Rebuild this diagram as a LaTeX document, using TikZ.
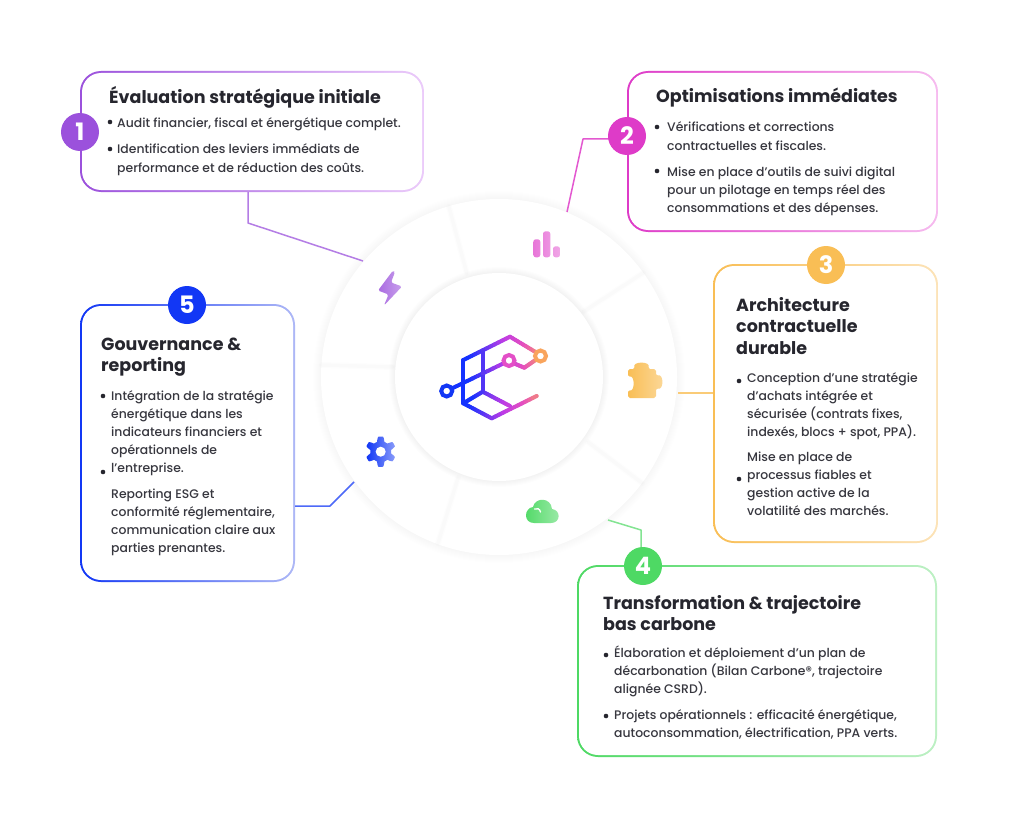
\documentclass[tikz,border=0pt]{standalone}
\usepackage{fontspec}
\setmainfont{Poppins}[UprightFont=* Medium]
\newfontfamily\ttlfont{Poppins}[UprightFont=* Bold]
\usetikzlibrary{calc}
\definecolor{ink}{HTML}{26262E}
\definecolor{pA}{HTML}{9B51DC}\definecolor{pB}{HTML}{EBCBFA}
\definecolor{mA}{HTML}{DE3BC8}\definecolor{mB}{HTML}{F6BBEF}
\definecolor{oA}{HTML}{F9BE55}\definecolor{oB}{HTML}{FCE3B8}
\definecolor{gA}{HTML}{4ED964}\definecolor{gB}{HTML}{BDF0C4}
\definecolor{bA}{HTML}{1237F5}\definecolor{bB}{HTML}{AEB8F6}
\tikzset{
 ttl/.style={anchor=base west,inner sep=0,text=ink,font=\ttlfont\fontsize{17.5}{21.7}\selectfont},
 bodytxt/.style={anchor=base west,inner sep=0,text=ink!92,font=\fontsize{12.4}{18}\selectfont},
 bul/.style={circle,fill=ink,inner sep=0,minimum size=4.6pt},
 badge/.style={circle,inner sep=0,minimum size=38pt,text=white,font=\ttlfont\fontsize{24}{24}\selectfont},
 conn/.style={line width=1.5pt,line join=round},
 logoring/.style={circle,line width=4pt,fill=white,inner sep=0,minimum size=11pt},
}
\newcommand\gbox[7]{%
 \node[minimum width={(#4)-(#2)},minimum height={(#5)-(#3)},inner sep=0,rounded corners=21pt,left color=#6,right color=#7,draw=none] (#1) at ({((#2)+(#4))/2},{((#3)+(#5))/2}) {};
 \node[minimum width={(#4)-(#2)-4},minimum height={(#5)-(#3)-4},inner sep=0,rounded corners=19pt,fill=white] (#1i) at ({((#2)+(#4))/2},{((#3)+(#5))/2}) {};
}
\newcommand\ptxt[4]{\node[bodytxt] (#1) at (#2,#3) {\begin{tabular}[t]{@{}l@{}}#4\end{tabular}};}
\newcommand\ttxt[4]{\node[ttl] (#1) at (#2,#3) {\begin{tabular}[t]{@{}l@{}}#4\end{tabular}};}
\newcommand\gseg[4]{%
 \foreach \i in {1,...,12}{%
  \pgfmathsetmacro\xa{#1+((#3)-(#1))*(\i-1)/12}\pgfmathsetmacro\ya{#2+((#4)-(#2))*(\i-1)/12}%
  \pgfmathsetmacro\xb{#1+((#3)-(#1))*\i/12}\pgfmathsetmacro\yb{#2+((#4)-(#2))*\i/12}%
  \pgfmathsetmacro\tq{max(445,min(545,(\xa+\xb)/2))}%
  \pgfmathtruncatemacro\rr{\tq<470?20:(\tq<505?(20+(\tq-470)/35*170):(\tq<525?(190+(\tq-505)/20*40):(230+(\tq-525)/20*20)))}%
  \pgfmathtruncatemacro\gg{\tq<470?50:(\tq<505?(50+(\tq-470)/35*10):(\tq<525?(60+(\tq-505)/20*20):(80+(\tq-525)/20*85)))}%
  \pgfmathtruncatemacro\bb{\tq<470?255:(\tq<505?(255-(\tq-470)/35*25):(\tq<525?(230-(\tq-505)/20*40):(190-(\tq-525)/20*100)))}%
  \definecolor{gc}{RGB}{\rr,\gg,\bb}%
  \draw[gc,line width=4pt,line cap=round] (\xa,\ya)--(\xb,\yb);%
 }%
}
\begin{document}
\begin{tikzpicture}[x=1pt,y=-1pt]
\useasboundingbox[fill=white] (0,0) rectangle (1024,829);
% ring
\foreach \w in {2,4,...,16}{\draw[black,opacity=.005,line width=\w pt] (499,377) circle (178);}
\fill[white] (499,377) circle (178);
\foreach \a/\b/\c/\d in {466.7/273/449/207, 583/312/643/273, 588/442/642/483, 458/478/438/543, 393/367/322/365}{
 \draw[black,opacity=.006,line width=6pt,line cap=round] (\a,\b)--(\c,\d);
 \draw[black,opacity=.010,line width=3.5pt,line cap=round] (\a,\b)--(\c,\d);
}
\foreach \w in {2,4,...,12}{\draw[black,opacity=.006,line width=\w pt] (499,377) circle (104);}
\fill[white] (499,377) circle (104);
% connectors
\coordinate (e1) at (363,261);\coordinate (j1) at (248,223);
\coordinate (e2) at (567,212);\coordinate (j2) at (583,139);
\coordinate (e3) at (678,393);
\coordinate (e4) at (608,520);\coordinate (j4) at (641,530);
\coordinate (e5) at (354,482);\coordinate (j5) at (330,506);
% boxes
\gbox{b1}{80}{71}{424}{192}{pA}{pB}
\gbox{b2}{627}{71}{938}{232}{mA}{mB}
\gbox{b3}{713}{264}{938}{543}{oA}{oB}
\gbox{b4}{577}{565}{937}{757}{gA}{gB}
\gbox{b5}{80}{304}{295}{582}{bA}{bB}
\draw[conn,color=pA!75!white] (b1.south -| j1) -- (j1) -- (e1);
\draw[conn,color=mA!85!white] (e2) -- (j2) -- (j2 -| b2.west);
\draw[conn,color=oA!80!white] (e3) -- (e3 -| b3.west);
\draw[conn,color=gA!70!white] (e4) -- (j4) -- (j4 |- b4.north);
\draw[conn,color=bA!75!white] (e5) -- (j5) -- (j5 -| b5.east);
% badges
\node[badge,fill=pA] (n1) at (80,132) {1};
\node[badge,fill=mA] (n2) at (627,136) {2};
\node[badge,fill=oA] (n3) at (826,265) {3};
\node[badge,fill=gA] (n4) at (643,566) {4};
\node[badge,fill=bA] (n5) at (187,305) {5};
% texts
\ttxt{t1}{109}{104}{Évaluation stratégique initiale}
\node[bul] (d11) at (110,122) {};\ptxt{p11}{117}{128}{Audit financier, fiscal et énergétique complet.}
\node[bul] (d12) at (110,149) {};\ptxt{p12}{117}{154}{Identification des leviers immédiats de\\performance et de réduction des coûts.}
\ttxt{t2}{656}{103}{Optimisations immédiates}
\node[bul] (d21) at (657,127) {};\ptxt{p21}{667}{132}{Vérifications et corrections\\contractuelles et fiscales.}
\node[bul] (d22) at (657,171) {};\ptxt{p22}{667}{176}{Mise en place d’outils de suivi digital\\pour un pilotage en temps réel des\\consommations et des dépenses.}
\ttxt{t3}{736}{311}{Architecture\\contractuelle\\durable}
\node[bul] (d31) at (739,381) {};\ptxt{p31}{747}{382}{Conception d’une stratégie\\d’achats intégrée et\\sécurisée (contrats fixes,\\indexés, blocs + spot, PPA).}
\node[bul] (d32) at (739,479) {};\ptxt{p32}{747}{461}{Mise en place de\\processus fiables et\\gestion active de la\\volatilité des marchés.}
\ttxt{t4}{603}{609}{Transformation \& trajectoire\\bas carbone}
\node[bul] (d41) at (606,655) {};\ptxt{p41}{614}{657}{Élaboration et déploiement d’un plan de\\décarbonation (Bilan Carbone®, trajectoire\\alignée CSRD).}
\node[bul] (d42) at (606,716) {};\ptxt{p42}{614}{719}{Projets opérationnels : efficacité énergétique,\\autoconsommation, électrification, PPA verts.}
\ttxt{t5}{101}{350}{Gouvernance \&\\reporting}
\node[bul] (d51) at (103,396) {};\ptxt{p51}{111}{400}{Intégration de la stratégie\\énergétique dans les\\indicateurs financiers et\\opérationnels de\\l’entreprise.}
\node[bul] (d52) at (103,472) {};\ptxt{p52}{111}{498}{Reporting ESG et\\conformité réglementaire,\\communication claire aux\\parties prenantes.}
% icons
% bars
\shade[left color=mA!70!white,right color=mA!45!white,rounded corners=2.5pt]
  (533.3,239.3) rectangle (540.3,257.3) (543,231.3) rectangle (550.3,257.3) (553,246.3) rectangle (560,257.3);
% bolt
\shade[left color=pA!85!white,right color=pA!55!white,rounded corners=1.6pt]
  (393,270.5)--(378,290.5)--(388.5,294.5)--(384,305.5)--(402,286.5)--(391,282.5)--(395,272)--cycle;
% puzzle
\shade[left color=oA,right color=oA!60!white,rounded corners=1.8pt]
  (628,369) -- (635,369) .. controls (632,361) and (651,361) .. (648,369) -- (656,369) -- (656,376)
  .. controls (664,373) and (664,391) .. (656,388) -- (656,398) -- (628,398) -- (628,390)
  .. controls (635,392) and (635,375) .. (628,377) -- cycle;
% cloud
\shade[left color=gA,right color=gA!55!white]
  (534,523) .. controls (523,523) and (524,508) .. (533,507) .. controls (535,497) and (551,497) .. (552,509)
  .. controls (561,510) and (561,523) .. (551,523) -- cycle;
\draw[white,line width=1.3pt,line cap=round] (534.5,509) .. controls (537,507.5) and (540,509) .. (540.5,512);
% gear
\shade[left color=bA,right color=bA!50!white]
  plot[domain=0:360,samples=145,smooth] ({380.7+(12.8+2.4*max(-1,min(1,1.8*cos(6*(\x-90)))))*cos(\x)},{451.7+(12.8+2.4*max(-1,min(1,1.8*cos(6*(\x-90)))))*sin(\x)}) -- cycle;
\fill[white] (380.7,451.7) circle (5);
% logo
\gseg{463.3}{360}{510}{336.7}
\gseg{510}{336.7}{541.7}{355.7}
\gseg{463.3}{360}{463.3}{403.3}
\gseg{463.3}{403.3}{491.7}{418.3}
\gseg{491.7}{418.3}{536.7}{396}
\gseg{482.7}{351.7}{482.7}{391.7}
\gseg{482.7}{391.7}{510}{406}
\gseg{482.7}{391.7}{463.3}{403.3}
\gseg{446.7}{391}{508.3}{361}
\gseg{508.3}{361}{524.3}{367.7}
\gseg{524.3}{367.7}{541.7}{355.7}
\node[logoring,draw=bA] (c1) at (446.7,391) {};
\node[logoring,draw=mA!85!pink] (c2) at (509,360.5) {};
\node[logoring,draw={rgb,255:red,249;green,164;blue,92}] (c3) at (540.5,356) {};
\end{tikzpicture}
\end{document}
